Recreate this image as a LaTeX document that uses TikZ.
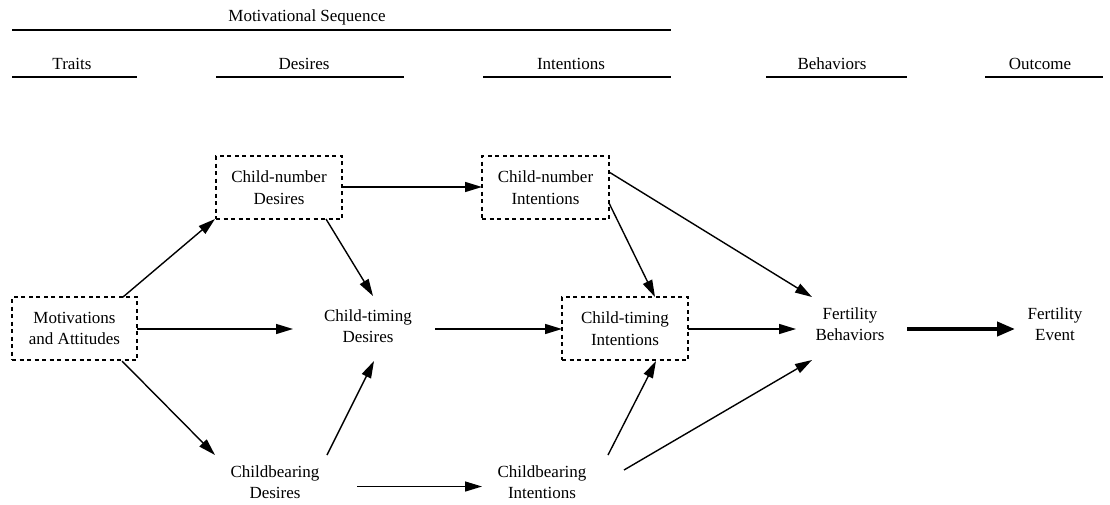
\documentclass[tikz,border=0pt]{standalone}
\usepackage{fontspec}
\setmainfont{Liberation Serif}
\usetikzlibrary{arrows.meta,calc}
\begin{document}
\begin{tikzpicture}[x=1pt,y=-1pt,
  txt/.style={align=center,font=\fontsize{17}{21.5}\selectfont,inner sep=0pt},
  hdr/.style={font=\fontsize{17}{20}\selectfont,inner sep=0pt},
  dbox/.style={txt,draw,dash pattern=on 4pt off 3.5pt,line width=1.1pt,minimum height=63pt},
  arr/.style={line width=1.4pt,-{Triangle[length=17pt,width=10pt]}},
  bigarr/.style={line width=4pt,-{Triangle[length=18pt,width=14pt]}},
  rule/.style={line width=1.5pt}]
\useasboundingbox (0,0) rectangle (1110,504);
% headers
\node[hdr] (seq) at (307,17) {Motivational Sequence};
\node[hdr] (htr) at (72,64) {Traits};
\node[hdr] (hde) at (304,64) {Desires};
\node[hdr] (hin) at (571,64) {Intentions};
\node[hdr] (hbe) at (832,64) {Behaviors};
\node[hdr] (hou) at (1040,64) {Outcome};
\draw[rule] (12,30) -- (671,30);
\draw[rule] (12,77) -- (137,77);
\draw[rule] (216,77) -- (404,77);
\draw[rule] (483,77) -- (671,77);
\draw[rule] (766,77) -- (907,77);
\draw[rule] (985,77) -- (1103,77);
% nodes
\node[dbox,minimum width=125pt] (mot) at (74.5,328.5) {Motivations\\and Attitudes};
\node[dbox,minimum width=126pt] (cnd) at (279,187.5) {Child-number\\Desires};
\node[dbox,minimum width=127pt] (cni) at (545.5,187.5) {Child-number\\Intentions};
\node[dbox,minimum width=126pt] (cti) at (625,328.5) {Child-timing\\Intentions};
\node[txt] (ctd) at (368,326) {Child-timing\\Desires};
\node[txt] (cbd) at (275,482) {Childbearing\\Desires};
\node[txt] (cbi) at (542,482) {Childbearing\\Intentions};
\node[txt] (fb) at (850,324) {Fertility\\Behaviors};
\node[txt] (fe) at (1055,324) {Fertility\\Event};
% arrows
\draw[arr] ($(mot.center)+(48.5,-31.5)$) -- ($(cnd.center)+(-64,31.5)$);
\draw[arr] ($(mot.center)+(62.5,0.5)$) -- ($(ctd.center)+(-75,3)$);
\draw[arr] ($(mot.center)+(47.5,32.5)$) -- ($(cbd.center)+(-60,-27)$);
\draw[arr] ($(cnd.center)+(47,31.5)$) -- ($(ctd.center)+(5,-30)$);
\draw[arr] ($(cnd.center)+(63,-0.5)$) -- ($(cni.center)+(-63.5,-0.5)$);
\draw[arr] ($(cbd.center)+(52,-27)$) -- ($(ctd.center)+(6,35)$);
\draw[arr] ($(cbd.center)+(82,4.5)$) -- ($(cbi.center)+(-60,4.5)$);
\draw[arr] ($(ctd.center)+(67,3)$) -- ($(cti.center)+(-63,0.5)$);
\draw[arr] ($(cni.center)+(63.5,15.5)$) -- ($(cti.center)+(30,-31.5)$);
\draw[arr] ($(cni.center)+(63.5,-15.5)$) -- ($(fb.center)+(-38,-27)$);
\draw[arr] ($(cti.center)+(63,0.5)$) -- ($(fb.center)+(-54,5)$);
\draw[arr] ($(cbi.center)+(66,-27)$) -- ($(cti.center)+(31,32.5)$);
\draw[arr] ($(cbi.center)+(82,-12)$) -- ($(fb.center)+(-38,36)$);
\draw[bigarr] ($(fb.center)+(57,5)$) -- ($(fe.center)+(-40,5)$);
\end{tikzpicture}
\end{document}
